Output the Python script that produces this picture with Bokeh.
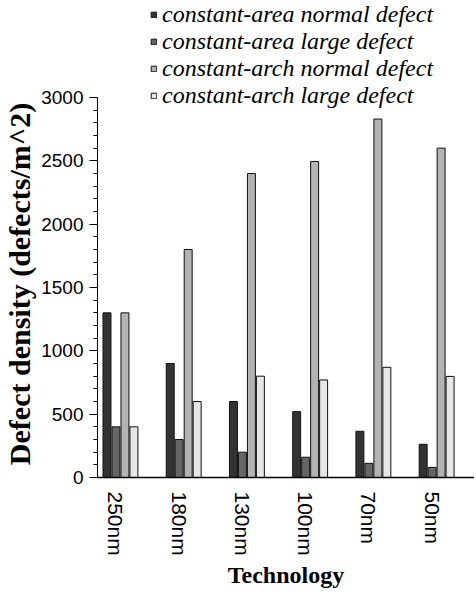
import math
from bokeh.plotting import figure
from bokeh.models import Range1d, FixedTicker, Legend, LegendItem, ColumnDataSource
from bokeh.transform import dodge
from bokeh.embed import file_html
from bokeh.resources import INLINE

techs = ["250nm", "180nm", "130nm", "100nm", "70nm", "50nm"]
area_normal = [1300, 900, 600, 520, 365, 262]
area_large = [400, 300, 200, 160, 112, 80]
arch_normal = [1300, 1800, 2400, 2495, 2830, 2600]
arch_large = [400, 600, 800, 770, 870, 798]

series_names = ["constant-area normal defect", "constant-area large defect",
                "constant-arch normal defect", "constant-arch large defect"]
series_vals = [area_normal, area_large, arch_normal, arch_large]
colors = ["#333333", "#666666", "#b3b3b3", "#e6e6e6"]
offsets = [-0.142, 0.0, 0.142, 0.284]
y_ticks = [0, 500, 1000, 1500, 2000, 2500, 3000]
y_max = 3000
y_title = "Defect density (defects/m^2)"

FRAME_H = 477          # frame reaches the top of the canvas so the legend fits in it
AXIS_PX = 380          # pixels spanned by 0..3000
y_top = y_max * FRAME_H / AXIS_PX

src = ColumnDataSource(dict(
    x=list(range(len(techs))),
    s0=area_normal, s1=area_large, s2=arch_normal, s3=arch_large,
))

p = figure(frame_width=377, frame_height=FRAME_H, output_backend="svg", toolbar_location=None,
           x_range=Range1d(-0.292, 5.67), y_range=Range1d(0, y_top),
           min_border_left=90, min_border_right=0, min_border_top=0,
           min_border_bottom=10)
p.outline_line_color = None
p.xgrid.grid_line_color = None
p.ygrid.grid_line_color = None
p.background_fill_color = "white"
p.border_fill_color = "white"

items = []
for i, (name, col, off) in enumerate(zip(series_names, colors, offsets)):
    r = p.vbar(x=dodge("x", off), top=f"s{i}", width=0.126, bottom=0, source=src,
               fill_color=col, line_color="#111111", line_width=1)
    items.append(LegendItem(label=name, renderers=[r]))

legend = Legend(items=items, location=(53, 368), padding=0, margin=0,
                border_line_color=None, background_fill_alpha=0,
                glyph_width=7, glyph_height=7, label_standoff=5,
                label_height=20, spacing=0,
                label_text_font="Liberation Serif", label_text_font_style="italic",
                label_text_font_size="24px", label_text_color="black")
p.add_layout(legend, "center")

xa = p.xaxis[0]
xa.ticker = FixedTicker(ticks=list(range(len(techs))))
xa.major_label_overrides = {i: t for i, t in enumerate(techs)}
xa.major_label_orientation = -math.pi / 2
xa.major_tick_out = 0
xa.major_tick_in = 0
xa.minor_tick_out = 0
xa.minor_tick_in = 0
xa.major_label_standoff = 14
xa.major_label_text_font = "Liberation Sans"
xa.major_label_text_font_size = "21px"
xa.major_label_text_color = "black"
xa.axis_line_color = "black"
xa.axis_line_width = 1.5
xa.axis_label = "Technology"
xa.axis_label_text_font = "Liberation Serif"
xa.axis_label_text_font_style = "bold"
xa.axis_label_text_font_size = "24px"
xa.axis_label_text_color = "black"
xa.axis_label_standoff = 3

ya = p.yaxis[0]
ya.bounds = (0, y_max)
ya.ticker = FixedTicker(ticks=y_ticks, minor_ticks=list(range(0, y_max + 1, 100)))
ya.major_tick_out = 8
ya.major_tick_in = 0
ya.minor_tick_out = 4
ya.minor_tick_in = 0
ya.major_label_standoff = 6
ya.major_label_text_font = "Liberation Sans"
ya.major_label_text_font_size = "19px"
ya.major_label_text_color = "black"
ya.axis_line_color = "black"
ya.major_tick_line_color = "black"
ya.minor_tick_line_color = "black"
# trailing no-break spaces shift the centred title down onto the 0..3000 span
ya.axis_label = y_title + "\u00a0" * 12
ya.axis_label_text_font = "Liberation Serif"
ya.axis_label_text_font_style = "bold"
ya.axis_label_text_font_size = "30px"
ya.axis_label_text_color = "black"
ya.axis_label_standoff = 2

open("out.html", "w").write(file_html(p, INLINE))
